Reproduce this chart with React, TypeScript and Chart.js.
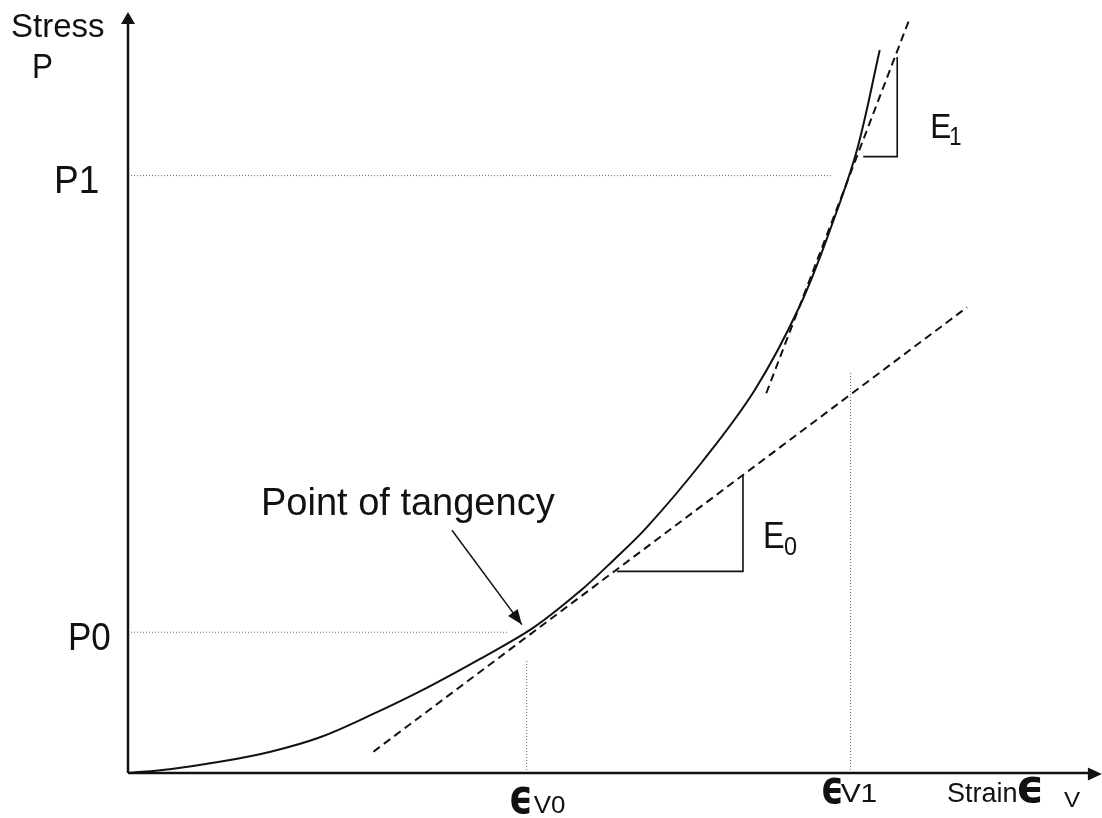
import { useEffect, useRef } from "react";
import { Chart, registerables } from "chart.js";

Chart.register(...registerables);

// ---- data (strain along x, stress along y; both in 0..100 schematic units) ----
const strain = [0, 4.3, 9.6, 14.7, 19.8, 25.0, 30.8, 36.3, 41.8, 46.6, 50.0, 53.5, 59.2, 64.6, 69.3, 72.7, 75.2, 77.5];
const stress = [0, 0.5, 1.5, 2.8, 4.7, 7.6, 11.2, 15.0, 19.1, 23.9, 27.9, 32.3, 40.9, 50.3, 61.5, 72.5, 82.1, 95.0];

const tangentE0X = [25.3, 86.5];
const tangentE0Y = [2.8, 61.2];
const tangentE1X = [65.8, 80.6];
const tangentE1Y = [49.9, 99.2];

const slopeE0X = [50.4, 63.4, 63.4];
const slopeE0Y = [26.5, 26.5, 39.2];
const slopeE1X = [75.8, 79.3, 79.3];
const slopeE1Y = [81.0, 81.0, 94.1];

const P0 = 18.5;
const P1 = 78.5;
const EV0 = 41.1;
const EV1 = 74.5;
const p0GuideEnd = 39.1;
const p1GuideEnd = 72.5;
const ev0GuideTop = 14.9;
const ev1GuideTop = 52.7;

const tangencyArrowX = [33.4, 40.6];
const tangencyArrowY = [31.9, 19.5];

const axisXMax = 100.4;
const axisYMax = 100;

const yTickLabels = ["P0", "P1"];
const xTickLabels = ["V0", "V1"];
const yTitle = ["Stress", "P"];
const xTitle = ["Strain", "V"];
const epsilon = "\u03F5";
const tangencyLabel = "Point of tangency";
const slopeLabels = ["E", "0", "1"];

const pts = (xs: number[], ys: number[]) => xs.map((x, i) => ({ x, y: ys[i] }));

const FONT = "'Liberation Sans', Arial, Helvetica, sans-serif";
const EPS_FONT = "'DejaVu Sans', 'Liberation Sans', sans-serif";

function txt(ctx: CanvasRenderingContext2D, s: string, x: number, y: number, font: string, sx = 1) {
  ctx.save();
  ctx.font = font;
  ctx.fillStyle = "#111";
  ctx.textAlign = "left";
  ctx.textBaseline = "alphabetic";
  ctx.translate(x, y);
  ctx.scale(sx, 1);
  ctx.fillText(s, 0, 0);
  ctx.restore();
}

function arrowHead(ctx: CanvasRenderingContext2D, tx: number, ty: number, fx: number, fy: number, len: number, half: number) {
  const dx = tx - fx;
  const dy = ty - fy;
  const d = Math.hypot(dx, dy) || 1;
  const ux = dx / d;
  const uy = dy / d;
  const bx = tx - ux * len;
  const by = ty - uy * len;
  ctx.beginPath();
  ctx.moveTo(tx, ty);
  ctx.lineTo(bx - uy * half, by + ux * half);
  ctx.lineTo(bx + uy * half, by - ux * half);
  ctx.closePath();
  ctx.fill();
}

const schematicPlugin = {
  id: "schematic",
  afterDatasetsDraw(chart: any) {
    const ctx: CanvasRenderingContext2D = chart.ctx;
    const xs = chart.scales.x;
    const ys = chart.scales.y;
    const px = (v: number) => xs.getPixelForValue(v);
    const py = (v: number) => ys.getPixelForValue(v);
    const x0 = px(0);
    const y0 = py(0);

    ctx.save();
    ctx.strokeStyle = "#111";
    ctx.fillStyle = "#111";
    ctx.lineWidth = 2.5;
    // axes
    ctx.beginPath();
    ctx.moveTo(x0, y0);
    ctx.lineTo(x0, py(axisYMax) + 8);
    ctx.moveTo(x0, y0);
    ctx.lineTo(px(axisXMax) - 8, y0);
    ctx.stroke();
    arrowHead(ctx, x0, py(axisYMax), x0, y0, 12, 7);
    arrowHead(ctx, px(axisXMax), y0 + 1, x0, y0 + 1, 14, 6.5);

    // point-of-tangency arrow head
    arrowHead(
      ctx,
      px(tangencyArrowX[1]),
      py(tangencyArrowY[1]),
      px(tangencyArrowX[0]),
      py(tangencyArrowY[0]),
      15,
      6
    );
    ctx.restore();

    // axis titles
    txt(ctx, yTitle[0], x0 - 117, py(axisYMax) + 25, `33px ${FONT}`);
    txt(ctx, yTitle[1], x0 - 96, py(axisYMax) + 66, `35px ${FONT}`, 0.9);

    // y tick labels
    txt(ctx, yTickLabels[0], x0 - 60, py(P0) + 18, `38px ${FONT}`, 0.92);
    txt(ctx, yTickLabels[1], x0 - 74, py(P1) + 17, `39px ${FONT}`, 0.95);

    // x tick labels
    txt(ctx, epsilon, px(EV0) - 18, y0 + 40, `bold 48px ${EPS_FONT}`, 0.78);
    txt(ctx, xTickLabels[0], px(EV0) + 7, y0 + 40, `24px ${FONT}`, 1.08);
    txt(ctx, epsilon, px(EV1) - 30, y0 + 30, `bold 46px ${EPS_FONT}`, 0.78);
    txt(ctx, xTickLabels[1], px(EV1) - 10, y0 + 29, `26px ${FONT}`, 1.15);

    // x title
    txt(ctx, xTitle[0], x0 + 819, y0 + 29, `27px ${FONT}`);
    txt(ctx, epsilon, x0 + 888, y0 + 29, `bold 46px ${EPS_FONT}`, 0.95);
    txt(ctx, xTitle[1], x0 + 936, y0 + 34, `22px ${FONT}`, 1.1);

    // slope labels
    const e0x = px(slopeE0X[2]);
    const e0y = py(slopeE0Y[0]);
    txt(ctx, slopeLabels[0], e0x + 20, e0y - 23, `36px ${FONT}`, 0.9);
    txt(ctx, slopeLabels[1], e0x + 41, e0y - 16, `26px ${FONT}`, 0.9);
    const e1x = px(slopeE1X[2]);
    const e1y = py(slopeE1Y[0]);
    txt(ctx, slopeLabels[0], e1x + 33, e1y - 19, `35px ${FONT}`, 0.9);
    txt(ctx, slopeLabels[2], e1x + 52, e1y - 12, `26px ${FONT}`, 0.85);

    // annotation text
    txt(ctx, tangencyLabel, px(tangencyArrowX[0]) - 191, py(tangencyArrowY[0]) - 15, `38px ${FONT}`);
  },
};

export default function App() {
  const ref = useRef<HTMLCanvasElement | null>(null);

  useEffect(() => {
    if (!ref.current) return;
    const guide = {
      borderColor: "#666",
      borderWidth: 1,
      borderDash: [1, 2],
      pointRadius: 0,
      showLine: true,
      clip: false as const,
    };
    const dashed = {
      borderColor: "#111",
      borderWidth: 2,
      borderDash: [8, 5],
      pointRadius: 0,
      showLine: true,
      clip: false as const,
    };
    const solidThin = {
      borderColor: "#111",
      borderWidth: 1.6,
      pointRadius: 0,
      showLine: true,
      clip: false as const,
    };
    const chart = new Chart(ref.current, {
      type: "scatter",
      data: {
        datasets: [
          { ...guide, data: [{ x: 0, y: P0 }, { x: p0GuideEnd, y: P0 }] },
          { ...guide, data: [{ x: 0, y: P1 }, { x: p1GuideEnd, y: P1 }] },
          { ...guide, data: [{ x: EV0, y: 0 }, { x: EV0, y: ev0GuideTop }] },
          { ...guide, data: [{ x: EV1, y: 0 }, { x: EV1, y: ev1GuideTop }] },
          { ...dashed, data: pts(tangentE0X, tangentE0Y) },
          { ...dashed, data: pts(tangentE1X, tangentE1Y) },
          { ...solidThin, data: pts(slopeE0X, slopeE0Y) },
          { ...solidThin, data: pts(slopeE1X, slopeE1Y) },
          { ...solidThin, borderWidth: 1.5, data: pts(tangencyArrowX, tangencyArrowY) },
          {
            data: pts(strain, stress),
            borderColor: "#111",
            borderWidth: 2,
            pointRadius: 0,
            showLine: true,
            tension: 0.35,
            clip: false as const,
          },
        ],
      },
      options: {
        animation: false,
        responsive: false,
        layout: { padding: { left: 128, right: 4, top: 12, bottom: 45 } },
        plugins: { legend: { display: false }, tooltip: { enabled: false } },
        scales: {
          x: { type: "linear", min: 0, max: 100, display: false },
          y: { type: "linear", min: 0, max: 100, display: false },
        },
      },
      plugins: [schematicPlugin],
    });
    return () => chart.destroy();
  }, []);

  return (
    <div style={{ position: "absolute", left: 0, top: 0, width: 1102, height: 818, background: "#fff" }}>
      <canvas ref={ref} width={1102} height={818} style={{ display: "block" }} />
    </div>
  );
}
